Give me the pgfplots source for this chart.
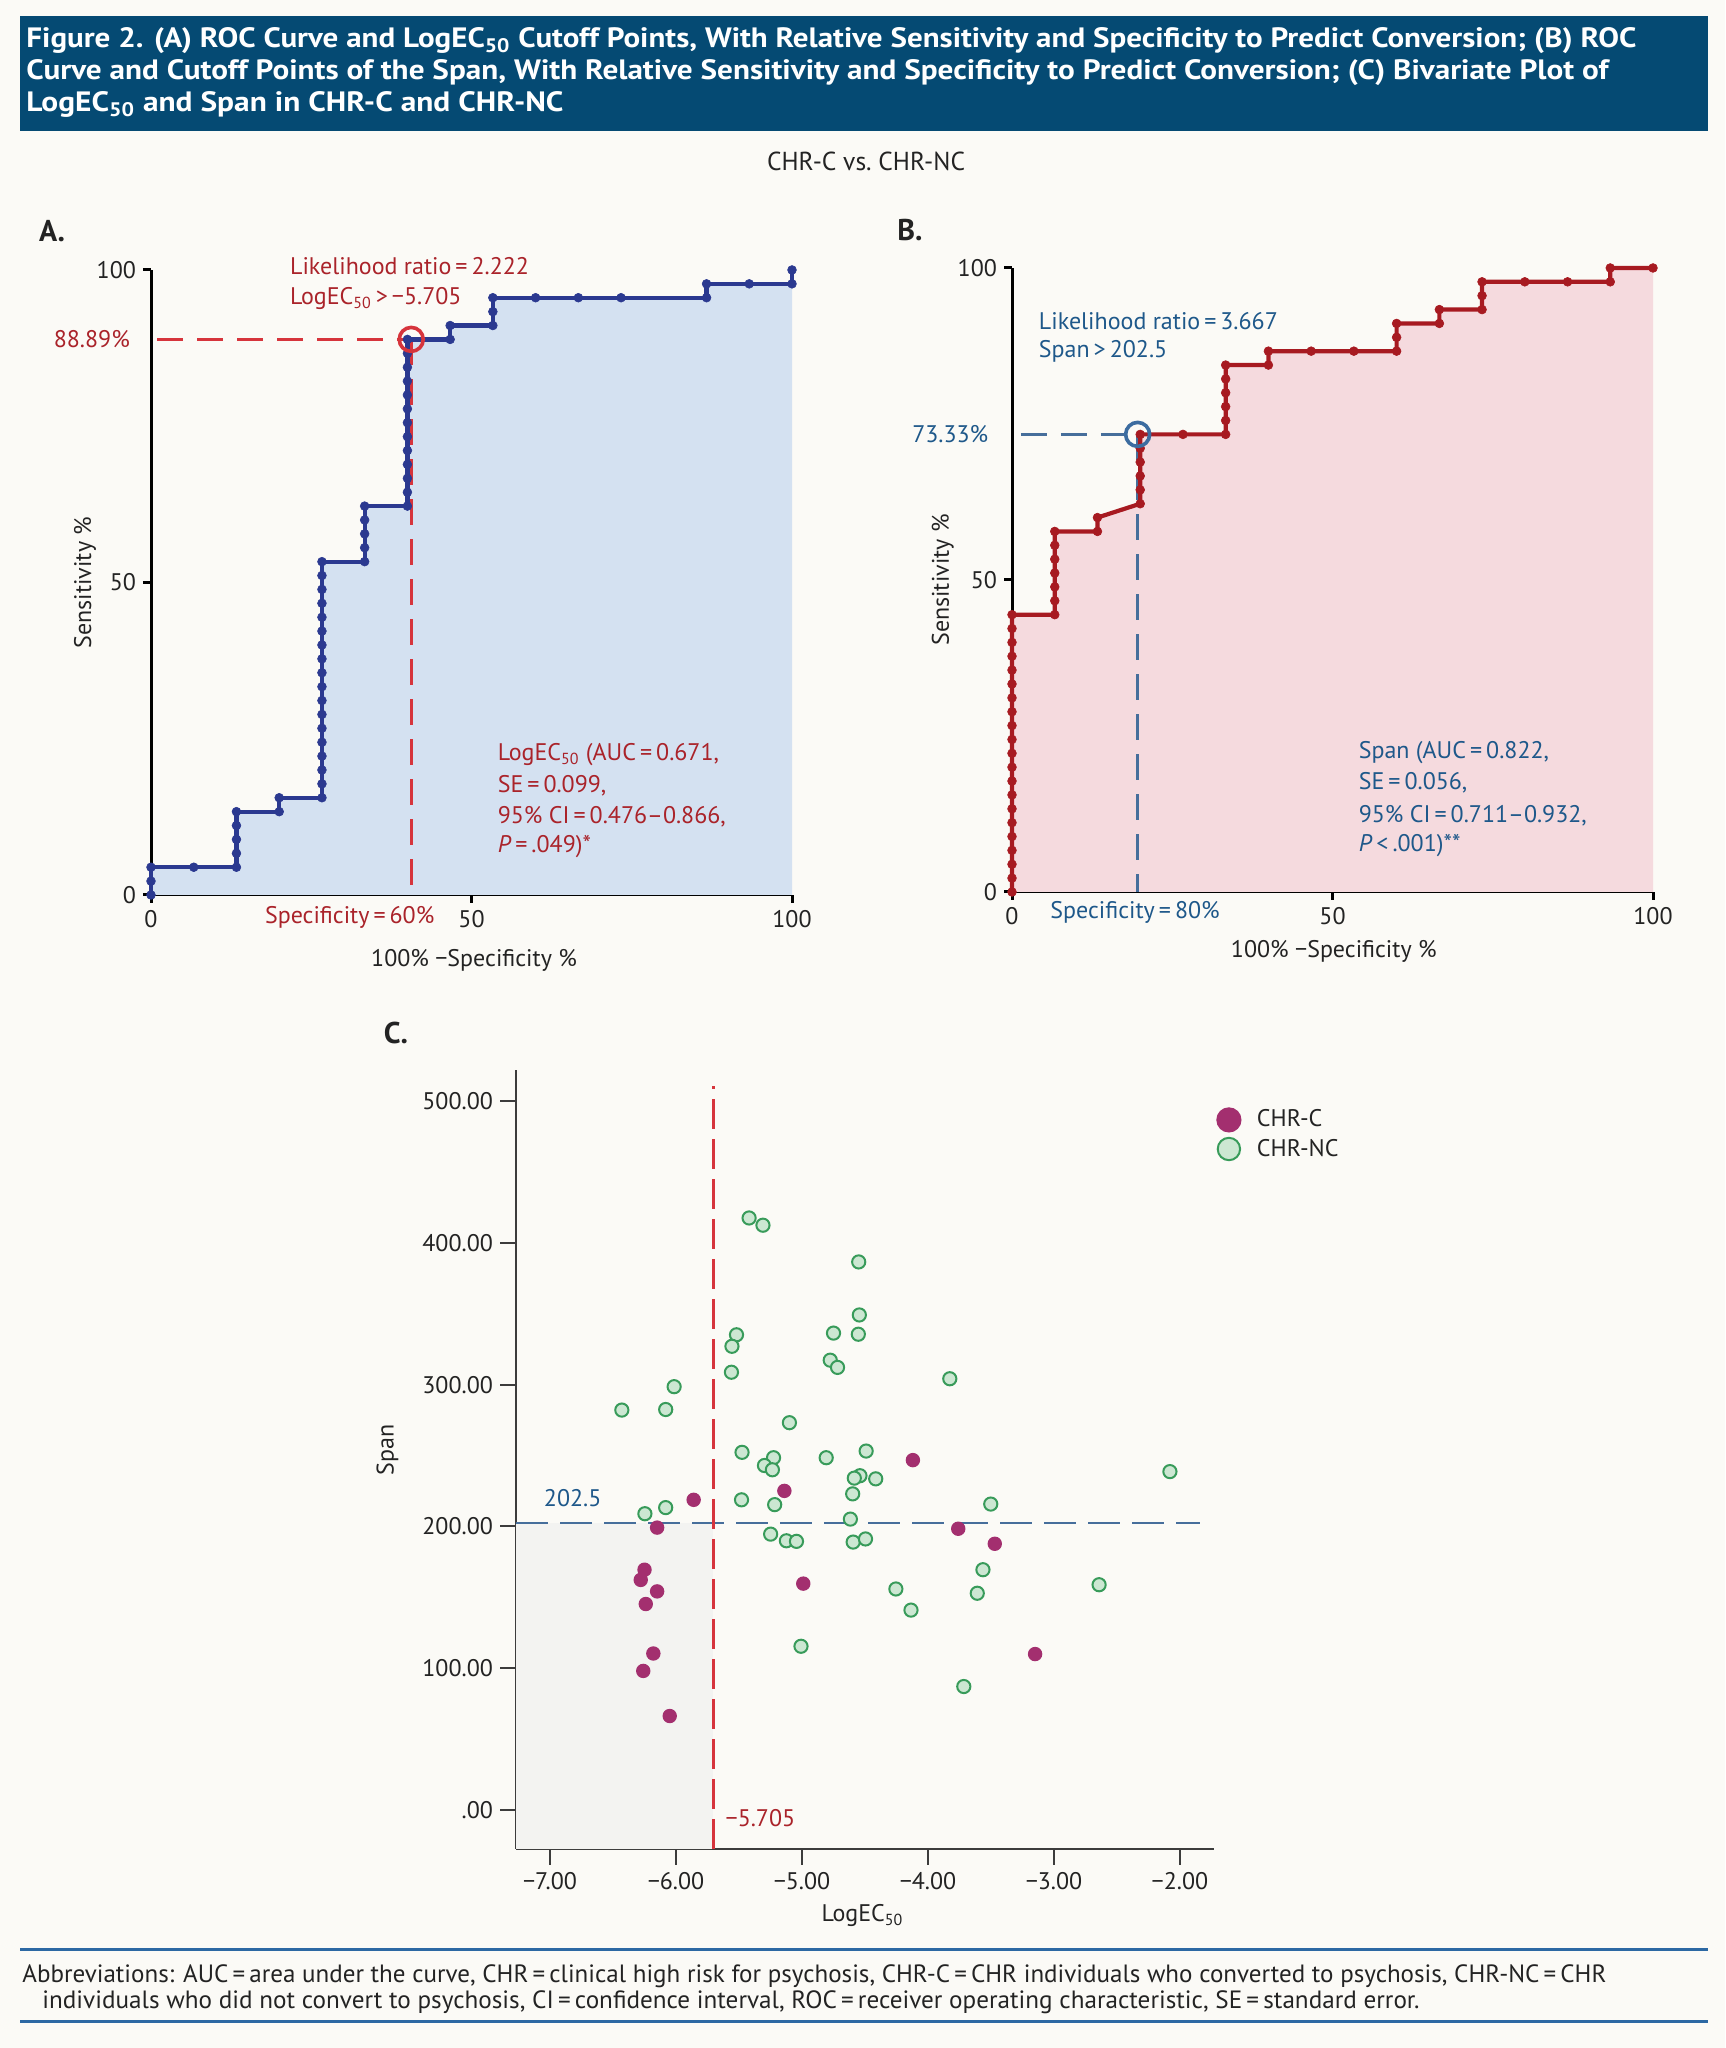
\documentclass[border=0pt]{standalone}
\usepackage{fontspec}
\setmainfont{PT Sans}
\usepackage{graphicx}
\usepackage{pgfplots}
\pgfplotsset{compat=1.18}
\usepackage{pgfplotstable}

\definecolor{bg}{RGB}{251,250,246}
\definecolor{hdr}{RGB}{5,74,115}
\definecolor{navyA}{RGB}{43,57,144}
\definecolor{fillA}{RGB}{212,225,241}
\definecolor{redt}{RGB}{170,35,42}
\definecolor{redl}{RGB}{214,52,60}
\definecolor{fillB}{RGB}{245,218,222}
\definecolor{curveB}{RGB}{167,26,33}
\definecolor{bluet}{RGB}{30,88,138}
\definecolor{bluel}{RGB}{70,110,155}
\definecolor{circB}{RGB}{60,108,160}
\definecolor{grayC}{RGB}{243,243,241}
\definecolor{magC}{RGB}{163,47,111}
\definecolor{grnF}{RGB}{204,231,210}
\definecolor{grnE}{RGB}{56,155,90}
\definecolor{axC}{RGB}{60,60,60}
\definecolor{rule}{RGB}{44,104,163}
\definecolor{txt}{RGB}{35,35,35}

\newcommand{\ft}{\fontsize{12}{14}\selectfont}
\newcommand{\ec}{LogEC\textsubscript{50}}

% ROC curve, LogEC50
\pgfplotstableread{
x y
0 0
0 2.22
0 4.44
6.67 4.44
13.33 4.44
13.33 6.67
13.33 8.89
13.33 11.11
13.33 13.33
20 13.33
20 15.56
26.67 15.56
26.67 17.78
26.67 20
26.67 22.22
26.67 24.44
26.67 26.67
26.67 28.89
26.67 31.11
26.67 33.33
26.67 35.56
26.67 37.78
26.67 40
26.67 42.22
26.67 44.44
26.67 46.67
26.67 48.89
26.67 51.11
26.67 53.33
33.33 53.33
33.33 55.56
33.33 57.78
33.33 60
33.33 62.22
40 62.22
40 64.44
40 66.67
40 68.89
40 71.11
40 73.33
40 75.56
40 77.78
40 80
40 82.22
40 84.44
40 86.67
40 88.89
46.67 88.89
46.67 91.11
53.33 91.11
53.33 93.33
53.33 95.56
60 95.56
66.67 95.56
73.33 95.56
86.67 95.56
86.67 97.78
93.33 97.78
100 97.78
100 100
}\rocA

% ROC curve, span
\pgfplotstableread{
x y
0 0
0 2.22
0 4.44
0 6.67
0 8.89
0 11.11
0 13.33
0 15.56
0 17.78
0 20
0 22.22
0 24.44
0 26.67
0 28.89
0 31.11
0 33.33
0 35.56
0 37.78
0 40
0 42.22
0 44.44
6.67 44.44
6.67 46.67
6.67 48.89
6.67 51.11
6.67 53.33
6.67 55.56
6.67 57.78
13.33 57.78
13.33 60
20 62.22
20 64.44
20 66.67
20 68.89
20 71.11
20 73.33
26.67 73.33
33.33 73.33
33.33 75.56
33.33 77.78
33.33 80
33.33 82.22
33.33 84.44
40 84.44
40 86.67
46.67 86.67
53.33 86.67
60 86.67
60 88.89
60 91.11
66.67 91.11
66.67 93.33
73.33 93.33
73.33 95.56
73.33 97.78
80 97.78
86.67 97.78
93.33 97.78
93.33 100
100 100
}\rocB

% CHR-C
\pgfplotstableread{
x y
-4.12 246.8
-5.14 225.1
-5.86 218.8
-6.15 199.2
-3.76 198.4
-3.47 187.8
-6.25 169.5
-6.28 162.3
-6.15 154.2
-6.24 145.3
-4.99 159.7
-6.18 110.4
-6.26 98.1
-3.15 110.0
-6.05 66.3
}\chrc

% CHR-NC
\pgfplotstableread{
x y
-5.42 417.6
-5.31 412.5
-4.55 386.6
-4.545 349.2
-5.52 335.2
-4.75 336.4
-4.553 335.6
-5.556 327.1
-4.776 317.3
-4.718 312.2
-5.56 308.8
-3.827 304.2
-6.015 298.6
-6.43 282.1
-6.082 282.5
-5.10 273.2
-5.476 252.3
-4.491 253.2
-4.808 248.5
-5.226 248.5
-5.298 243.0
-5.235 240.0
-4.54 235.8
-4.585 234.1
-4.415 233.6
-2.080 238.7
-4.598 223.0
-5.48 218.8
-5.217 215.4
-3.502 215.8
-6.082 213.3
-6.247 209.0
-4.616 205.2
-5.249 194.6
-5.124 189.9
-5.044 189.5
-4.594 189.0
-4.496 191.2
-3.564 169.5
-2.642 158.9
-4.255 155.9
-3.609 152.9
-4.135 141.0
-5.008 115.5
-3.716 87.1
}\chrnc

\begin{document}
\begin{tikzpicture}
\useasboundingbox (0,0) rectangle (862.5pt,1024pt);
\fill[bg] (0,0) rectangle (862.5pt,1024pt);

% header
\fill[hdr] (10pt,958.5pt) rectangle (854pt,1016pt);
\begin{scope}[every node/.style={anchor=base west, inner sep=0pt, text=white, font=\fontsize{14}{16}\selectfont\bfseries}]
\node at (13pt,1000pt) {\resizebox{805pt}{\height}{Figure 2. (A) ROC Curve and \ec{} Cutoff Points, With Relative Sensitivity and Specificity to Predict Conversion; (B) ROC}};
\node at (13pt,984pt) {\resizebox{791pt}{\height}{Curve and Cutoff Points of the Span, With Relative Sensitivity and Specificity to Predict Conversion; (C) Bivariate Plot of}};
\node at (13pt,968pt) {\resizebox{268.5pt}{\height}{\ec{} and Span in CHR-C and CHR-NC}};
\end{scope}
\node[anchor=base, inner sep=0pt, text=txt, font=\fontsize{13}{15}\selectfont] at (433pt,938.5pt) {\resizebox{99pt}{\height}{CHR-C vs.\ CHR-NC}};

\node[text=txt, font=\fontsize{15}{17}\selectfont\bfseries] at (26pt,908.5pt) {A.};
\node[text=txt, font=\fontsize{15}{17}\selectfont\bfseries] at (455pt,909pt) {B.};
\node[text=txt, font=\fontsize{15}{17}\selectfont\bfseries] at (198pt,507.5pt) {C.};

% panel A
\begin{axis}[
  at={(75.5pt,576.5pt)}, anchor=south west,
  width=320.5pt, height=312.5pt, scale only axis,
  xmin=0, xmax=100, ymin=0, ymax=100,
  axis lines*=left, axis line style={line width=1.5pt, black},
  xtick={0,50,100}, ytick={0,50,100},
  xticklabels={0,50,100}, yticklabels={0,50,100},
  tick align=outside, major tick length=4pt,
  tick style={line width=1.5pt, black},
  tick label style={font=\ft, text=txt},
  clip=false,
]
\addplot[fill=fillA, draw=none] table {\rocA} \closedcycle;
\draw[redl, line width=1.4pt, dash pattern=on 13pt off 7pt] (axis cs:1,88.89) -- (axis cs:40,88.89);
\draw[redl, line width=1.4pt, dash pattern=on 13pt off 7pt] (axis cs:40.6,88.89) -- (axis cs:40.6,0);
\addplot[navyA, line width=2.1pt, mark=*, mark size=2.2pt, mark options={solid, line width=0.3pt}] table {\rocA};
\addplot[only marks, mark=o, mark size=6pt, redl, line width=1.8pt] coordinates {(40.6,88.89)};
\node[anchor=west, text=redt, font=\ft] at (axis cs:20.6,100.6) {Likelihood ratio\,=\,2.222};
\node[anchor=west, text=redt, font=\ft] at (axis cs:20.6,95.4) {\ec\,>\,−5.705};
\node[anchor=east, text=redt, font=\ft] at (axis cs:-2.2,88.89) {88.89\%};
\node[text=redt, font=\ft] at (axis cs:31,-3.6) {Specificity\,=\,60\%};
\node[anchor=west, text=redt, font=\ft] at (axis cs:53,22.4) {\ec{} (AUC\,=\,0.671,};
\node[anchor=west, text=redt, font=\ft] at (axis cs:53,17.4) {SE\,=\,0.099,};
\node[anchor=west, text=redt, font=\ft] at (axis cs:53,12.5) {95\% CI\,=\,0.476–0.866,};
\node[anchor=west, text=redt, font=\ft] at (axis cs:53,7.7) {\textit{P}\,=\,.049)*};
\node[text=txt, font=\ft] at (axis cs:50.4,-10.4) {100\% −Specificity \%};
\node[text=txt, font=\ft, rotate=90] at (axis cs:-10.3,50) {Sensitivity \%};
\end{axis}

% panel B
\begin{axis}[
  at={(506pt,578pt)}, anchor=south west,
  width=320.5pt, height=312pt, scale only axis,
  xmin=0, xmax=100, ymin=0, ymax=100,
  axis lines*=left, axis line style={line width=1.5pt, black},
  xtick={0,50,100}, ytick={0,50,100},
  xticklabels={0,50,100}, yticklabels={0,50,100},
  tick align=outside, major tick length=4pt,
  tick style={line width=1.5pt, black},
  tick label style={font=\ft, text=txt},
  clip=false,
]
\addplot[fill=fillB, draw=none] table {\rocB} \closedcycle;
\draw[bluel, line width=1.4pt, dash pattern=on 13pt off 7pt] (axis cs:1.4,73.33) -- (axis cs:19.6,73.33);
\draw[bluel, line width=1.4pt, dash pattern=on 13pt off 7pt] (axis cs:19.6,73.33) -- (axis cs:19.6,0);
\addplot[curveB, line width=2.1pt, mark=*, mark size=2.2pt, mark options={solid, line width=0.3pt}] table {\rocB};
\addplot[only marks, mark=o, mark size=6pt, circB, line width=1.8pt] coordinates {(19.6,73.33)};
\node[anchor=west, text=bluet, font=\ft] at (axis cs:3.1,91.5) {Likelihood ratio\,=\,3.667};
\node[anchor=west, text=bluet, font=\ft] at (axis cs:3.1,86.7) {Span\,>\,202.5};
\node[anchor=east, text=bluet, font=\ft] at (axis cs:-2.6,73.33) {73.33\%};
\node[text=bluet, font=\ft] at (axis cs:19.2,-3.2) {Specificity\,=\,80\%};
\node[anchor=west, text=bluet, font=\ft] at (axis cs:53,22.3) {Span (AUC\,=\,0.822,};
\node[anchor=west, text=bluet, font=\ft] at (axis cs:53,17.5) {SE\,=\,0.056,};
\node[anchor=west, text=bluet, font=\ft] at (axis cs:53,12.2) {95\% CI\,=\,0.711–0.932,};
\node[anchor=west, text=bluet, font=\ft] at (axis cs:53,7.4) {\textit{P}\,<\,.001)**};
\node[text=txt, font=\ft] at (axis cs:50.2,-9.6) {100\% −Specificity \%};
\node[text=txt, font=\ft, rotate=90] at (axis cs:-10.8,50) {Sensitivity \%};
\end{axis}

% panel C
\begin{axis}[
  at={(258pt,99.5pt)}, anchor=south west,
  width=349pt, height=389.5pt, scale only axis,
  xmin=-7.27, xmax=-1.73, ymin=-27.5, ymax=522,
  axis lines*=left, axis line style={line width=1pt, axC},
  xtick={-7,-6,-5,-4,-3,-2},
  xticklabels={−7.00,−6.00,−5.00,−4.00,−3.00,−2.00},
  ytick={0,100,200,300,400,500},
  yticklabels={.00,100.00,200.00,300.00,400.00,500.00},
  tick align=outside, major tick length=8pt,
  tick style={line width=1pt, axC},
  tick label style={font=\ft, text=txt},
  clip=false,
  legend style={at={(axis description cs:0.995,0.957)}, anchor=north west,
    draw=none, fill=none, font=\ft, text=txt,
    nodes={inner sep=1pt}, row sep=2.5pt, column sep=7pt},
  legend cell align=left,
]
\fill[grayC] (axis cs:-7.27,-27.5) rectangle (axis cs:-5.705,202.5);
\draw[bluel, line width=1.3pt, dash pattern=on 16pt off 6pt] (axis cs:-7.27,202.5) -- (axis cs:-1.84,202.5);
\draw[redl, line width=1.6pt, dash pattern=on 15pt off 5pt] (axis cs:-5.705,-27.5) -- (axis cs:-5.705,511);
\addplot[only marks, mark=*, mark size=3.3pt, draw=magC, fill=magC, line width=0.6pt,
  legend image post style={mark size=6pt}] table {\chrc};
\addlegendentry{CHR-C}
\addplot[only marks, mark=*, mark size=3.3pt, draw=grnE, fill=grnF, line width=1pt,
  legend image post style={mark size=5.6pt}] table {\chrnc};
\addlegendentry{CHR-NC}
\node[text=bluet, font=\ft] at (axis cs:-6.82,220) {202.5};
\node[text=redt, font=\ft] at (axis cs:-5.33,-6) {−5.705};
\node[text=txt, font=\ft] at (axis cs:-4.52,-74.6) {\ec};
\node[text=txt, font=\ft, rotate=90] at (axis cs:-8.29,254) {Span};
\end{axis}

% footer
\draw[rule, line width=1.5pt] (10pt,49pt) -- (854pt,49pt);
\draw[rule, line width=1.5pt] (10pt,13pt) -- (854pt,13pt);
\begin{scope}[every node/.style={anchor=base west, inner sep=0pt, text=txt, font=\fontsize{12.5}{14}\selectfont}]
\node at (11pt,32.5pt) {\resizebox{792pt}{\height}{Abbreviations: AUC\,=\,area under the curve, CHR\,=\,clinical high risk for psychosis, CHR-C\,=\,CHR individuals who converted to psychosis, CHR-NC\,=\,CHR}};
\node at (21pt,19.5pt) {\resizebox{688.5pt}{\height}{individuals who did not convert to psychosis, CI\,=\,confidence interval, ROC\,=\,receiver operating characteristic, SE\,=\,standard error.}};
\end{scope}
\end{tikzpicture}
\end{document}
